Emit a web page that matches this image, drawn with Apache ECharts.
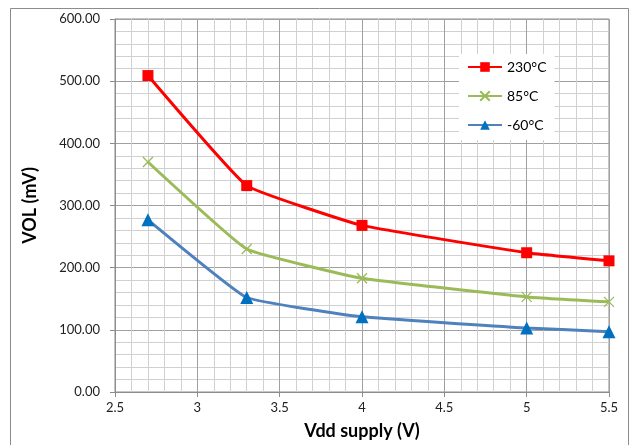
<!DOCTYPE html>
<html>
<head>
<meta charset="utf-8">
<script src="https://cdn.jsdelivr.net/npm/echarts@6/dist/echarts.min.js"></script>
<style>
  html, body { margin: 0; padding: 0; background: #fff; overflow: hidden; }
  #chart { width: 631px; height: 445px; }
</style>
</head>
<body>
<div id="chart"></div>
<script>
// Supply voltage (V) at which VOL was measured
const vdd = [2.7, 3.3, 4.0, 5.0, 5.5];
// VOL (mV) per temperature
const vol230 = [509, 332, 268, 224, 211];
const vol85 = [370, 230, 183, 153, 145];
const volM60 = [277, 152, 121, 103, 97];
const seriesNames = ['230°C', '85°C', '-60°C'];

const FONT = 'Lato, "Liberation Sans", sans-serif';

function pairs(ys) {
  return vdd.map((x, i) => [x, ys[i]]);
}

const chart = echarts.init(document.getElementById('chart'), null,
  { renderer: 'canvas', width: 631, height: 445 });

const xMark = 'path://M0,0L10,10M10,0L0,10';

chart.setOption({
  animation: false,
  backgroundColor: '#fff',
  graphic: [{
    type: 'rect',
    shape: { x: 10.5, y: 8.5, width: 618, height: 450 },
    style: { fill: 'none', stroke: '#8c8c8c', lineWidth: 1 },
    silent: true,
    z: -1
  }],
  grid: { left: 115, top: 19, width: 494, height: 376, containLabel: false,
          show: true, borderColor: '#8c8c8c', borderWidth: 1 },
  legend: {
    orient: 'vertical',
    left: 459, top: 54,
    width: 91,
    backgroundColor: '#fff',
    padding: [6, 8, 8, 8],
    itemGap: 15,
    itemWidth: 34,
    itemHeight: 12,
    textStyle: { fontFamily: FONT, fontSize: 14, color: '#000' },
    data: seriesNames
  },
  xAxis: {
    type: 'value',
    min: 2.5, max: 5.5, interval: 0.5,
    name: 'Vdd supply (V)',
    nameLocation: 'middle',
    nameGap: 30,
    nameTextStyle: { fontFamily: FONT, fontSize: 18, fontWeight: 'bold', color: '#000' },
    axisLine: { show: true, lineStyle: { color: '#8c8c8c' } },
    axisTick: { show: true, inside: false, length: 5, lineStyle: { color: '#8c8c8c' } },
    minorTick: { show: false, splitNumber: 5 },
    axisLabel: { fontFamily: FONT, fontSize: 13, color: '#222', margin: 9,
                 formatter: v => String(v) },
    splitLine: { show: true, lineStyle: { color: '#a0a0a0', width: 1 } },
    minorSplitLine: { show: true, lineStyle: { color: '#d0d0d0', width: 1 } }
  },
  yAxis: {
    type: 'value',
    min: 0, max: 600, interval: 100,
    name: 'VOL (mV)',
    nameLocation: 'middle',
    nameGap: 76,
    nameTextStyle: { fontFamily: FONT, fontSize: 18, fontWeight: 'bold', color: '#000' },
    axisLine: { show: true, lineStyle: { color: '#8c8c8c' } },
    axisTick: { show: true, inside: false, length: 5, lineStyle: { color: '#8c8c8c' } },
    minorTick: { show: false, splitNumber: 5 },
    axisLabel: { fontFamily: FONT, fontSize: 13, color: '#222', margin: 15,
                 formatter: v => v.toFixed(2) },
    splitLine: { show: true, lineStyle: { color: '#a0a0a0', width: 1 } },
    minorSplitLine: { show: true, lineStyle: { color: '#d0d0d0', width: 1 } }
  },
  series: [
    {
      name: seriesNames[0], type: 'line', data: pairs(vol230),
      smooth: 0.1,
      symbol: 'rect', symbolSize: 11,
      lineStyle: { color: '#ff0000', width: 3 },
      itemStyle: { color: '#ff0000' }
    },
    {
      name: seriesNames[1], type: 'line', data: pairs(vol85),
      smooth: 0.1,
      symbol: xMark, symbolSize: 10,
      lineStyle: { color: '#9bbb59', width: 3 },
      itemStyle: { color: '#9bbb59', borderColor: '#9bbb59', borderWidth: 1.3 }
    },
    {
      name: seriesNames[2], type: 'line', data: pairs(volM60),
      smooth: 0.1,
      symbol: 'triangle', symbolSize: 13,
      lineStyle: { color: '#4f81bd', width: 3 },
      itemStyle: { color: '#0070c0' }
    }
  ]
});
</script>
</body>
</html>
